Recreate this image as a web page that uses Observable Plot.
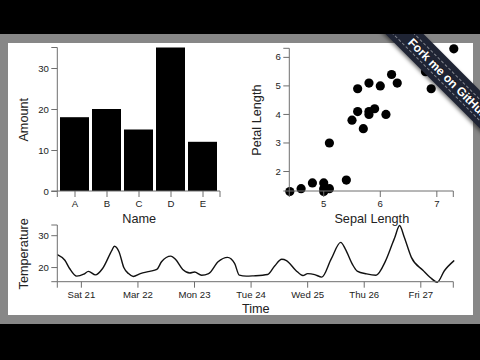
<!DOCTYPE html>
<html>
<head>
<meta charset="utf-8">
<script src="https://cdn.jsdelivr.net/npm/d3@7"></script>
<script src="https://cdn.jsdelivr.net/npm/@observablehq/plot@0.6"></script>
<style>
  html, body { margin: 0; padding: 0; background: #000; width: 480px; height: 360px; overflow: hidden; }
  #stage { position: absolute; left: 0; top: 34px; width: 480px; height: 290px; background: #878787; overflow: hidden; }
  #panel { position: absolute; left: 8px; top: 9px; width: 465px; height: 272px; background: #fff; }
  .chart { position: absolute; }
  #ribbon {
    position: absolute; left: 389.9px; top: -27.6px; width: 210px; height: 27px;
    transform-origin: 0 50%; transform: rotate(45deg);
    background: #1f2434; box-shadow: 0 2px 4px rgba(0,0,0,0.5);
    display: flex; align-items: center;
  }
  #ribbon span {
    display: block; width: 100%; box-sizing: border-box;
    border-top: 1px dashed rgba(255,255,255,0.45); border-bottom: 1px dashed rgba(255,255,255,0.45);
    line-height: 19px; padding-left: 29px;
    font: bold 12px "Liberation Sans", Arial, sans-serif; color: #fff; white-space: nowrap;
    text-shadow: 0 -1px 0 rgba(0,0,0,0.6);
  }
</style>
</head>
<body>
<div id="stage">
  <div id="panel"></div>
  <div id="bar" class="chart" style="left:0;top:0"></div>
  <div id="scatter" class="chart" style="left:240px;top:0"></div>
  <div id="temp" class="chart" style="left:0;top:176px"></div>
  <div id="ribbon"><span>Fork me on GitHub</span></div>
</div>
<script>
// ---- data ----
const names = ["A", "B", "C", "D", "E"];
const amounts = [18, 20, 15, 35, 12];
const amountTicks = [0, 10, 20, 30];

const sepalLength = [4.4, 4.6, 4.8, 5.0, 5.0, 5.0, 5.1, 5.4, 5.1, 5.7, 5.5, 5.6, 5.8, 5.8, 5.9, 6.1, 5.6, 5.8, 6.0, 6.2, 6.3, 6.8, 6.9, 7.3];
const petalLength = [1.3, 1.4, 1.6, 1.6, 1.4, 1.3, 1.4, 1.7, 3.0, 3.5, 3.8, 4.1, 4.0, 4.1, 4.2, 4.0, 4.9, 5.1, 5.0, 5.4, 5.1, 5.5, 4.9, 6.3];
const sepalTicks = [5, 6, 7];
const petalTicks = [2, 3, 4, 5, 6];

const times = [
  "2015-03-20T14:00Z", "2015-03-20T17:00Z", "2015-03-20T19:00Z", "2015-03-20T22:00Z",
  "2015-03-21T01:00Z", "2015-03-21T03:00Z", "2015-03-21T06:00Z", "2015-03-21T09:00Z",
  "2015-03-21T13:00Z", "2015-03-21T14:00Z", "2015-03-21T16:00Z", "2015-03-21T18:00Z",
  "2015-03-21T20:00Z", "2015-03-21T22:00Z",
  "2015-03-22T01:00Z", "2015-03-22T05:00Z", "2015-03-22T08:00Z", "2015-03-22T10:00Z",
  "2015-03-22T14:00Z", "2015-03-22T16:00Z", "2015-03-22T19:00Z", "2015-03-22T22:00Z",
  "2015-03-23T00:00Z", "2015-03-23T03:00Z", "2015-03-23T06:00Z", "2015-03-23T10:00Z",
  "2015-03-23T14:00Z", "2015-03-23T17:00Z", "2015-03-23T19:00Z", "2015-03-23T22:00Z",
  "2015-03-24T01:00Z", "2015-03-24T07:00Z", "2015-03-24T10:00Z", "2015-03-24T13:00Z",
  "2015-03-24T15:00Z", "2015-03-24T19:00Z", "2015-03-24T22:00Z",
  "2015-03-25T00:00Z", "2015-03-25T03:00Z", "2015-03-25T06:00Z", "2015-03-25T10:00Z",
  "2015-03-25T14:00Z", "2015-03-25T16:00Z", "2015-03-25T19:00Z", "2015-03-25T21:00Z",
  "2015-03-26T01:00Z", "2015-03-26T05:00Z", "2015-03-26T09:00Z", "2015-03-26T12:00Z",
  "2015-03-26T13:00Z", "2015-03-26T15:00Z", "2015-03-26T17:00Z", "2015-03-26T20:00Z",
  "2015-03-27T01:00Z", "2015-03-27T04:00Z", "2015-03-27T07:00Z", "2015-03-27T10:00Z",
  "2015-03-27T14:00Z"
];
const temps = [
  24.0, 22.3, 19.7, 17.3,
  17.9, 18.8, 17.7, 19.7,
  25.5, 26.7, 24.9, 20.0,
  18.1, 17.2,
  18.1, 18.8, 19.4, 21.8,
  23.6, 22.5, 19.4, 18.3,
  18.6, 17.6, 18.1, 21.8,
  23.2, 21.3, 17.6, 17.3,
  17.4, 17.8, 20.5, 22.6,
  22.2, 19.1, 17.5,
  18.1, 17.8, 17.0, 22.7,
  27.9, 25.8, 21.0, 18.9,
  18.0, 17.6, 22.0, 27.6,
  29.5, 33.2, 29.5, 23.2,
  19.1, 16.9, 15.4, 19.0,
  22.1
];
const dayTicks = ["2015-03-21", "2015-03-22", "2015-03-23", "2015-03-24", "2015-03-25", "2015-03-26", "2015-03-27"];
const dayLabels = ["Sat 21", "Mar 22", "Mon 23", "Tue 24", "Wed 25", "Thu 26", "Fri 27"];
const tempTicks = [20, 30];

// ---- styling ----
const FONT = '"Liberation Sans", Arial, Helvetica, sans-serif';
const AXIS = "#6e6e6e";
const TEXT = "#222";
const TICKFONT = 9.6;
const LABELFONT = 12.7;

// D3-style axis domain paths (with outer ticks), drawn from the plot's frame dimensions
function domainPaths() {
  return (index, scales, values, dim) => {
    const x0 = dim.marginLeft, x1 = dim.width - dim.marginRight;
    const y0 = dim.marginTop, y1 = dim.height - dim.marginBottom;
    const g = d3.create("svg:g").attr("fill", "none").attr("stroke", AXIS);
    g.append("path").attr("d", `M${x0 - 6},${y0}H${x0}V${y1}H${x0 - 6}`);
    g.append("path").attr("d", `M${x0},${y1 + 6}V${y1}H${x1}V${y1 + 6}`);
    return g.node();
  };
}
const axisOpts = {tickSize: 6, tickPadding: 3, stroke: AXIS, fill: TEXT, fontSize: TICKFONT, label: null};
const style = {fontFamily: FONT, fontSize: TICKFONT + "px", background: "transparent", color: TEXT, overflow: "visible"};
const xTitle = (t, dy) => Plot.text([t], {frameAnchor: "bottom", dy, lineAnchor: "middle", textAnchor: "middle", fontSize: LABELFONT, fill: TEXT});
const yTitle = (t, dx) => Plot.text([t], {frameAnchor: "left", dx, rotate: -90, lineAnchor: "middle", textAnchor: "middle", fontSize: LABELFONT, fill: TEXT});

// ---- bar chart ----
const barData = names.map((n, i) => ({name: n, amount: amounts[i]}));
document.getElementById("bar").append(Plot.plot({
  width: 240, height: 197,
  marginLeft: 57.3, marginRight: 20, marginTop: 13.5, marginBottom: 40,
  style,
  x: {domain: names, paddingInner: 0.1, paddingOuter: 0.08},
  y: {domain: [0, d3.max(amounts)]},
  marks: [
    Plot.barY(barData, {x: "name", y: "amount", fill: "#000"}),
    Plot.axisX({...axisOpts}),
    Plot.axisY(amountTicks, {...axisOpts}),
    domainPaths(),
    xTitle("Name", 27),
    yTitle("Amount", -34)
  ]
}));

// ---- scatter ----
const irisData = sepalLength.map((s, i) => ({sepal: s, petal: petalLength[i]}));
document.getElementById("scatter").append(Plot.plot({
  width: 240, height: 197,
  marginLeft: 49.3, marginRight: 26.7, marginTop: 14.3, marginBottom: 40,
  style,
  x: {domain: d3.extent(sepalLength)},
  y: {domain: d3.extent(petalLength)},
  marks: [
    Plot.dot(irisData, {x: "sepal", y: "petal", r: 4.6, fill: "#000", stroke: "none"}),
    Plot.axisX(sepalTicks, {...axisOpts}),
    Plot.axisY(petalTicks, {...axisOpts}),
    domainPaths(),
    xTitle("Sepal Length", 27),
    yTitle("Petal Length", -32.6)
  ]
}));

// ---- temperature ----
const tempData = times.map((t, i) => ({time: new Date(t), temp: temps[i]}));
const tickDates = dayTicks.map(d => new Date(d + "T00:00Z"));
document.getElementById("temp").append(Plot.plot({
  width: 480, height: 105,
  marginLeft: 57.3, marginRight: 26.7, marginTop: 15, marginBottom: 33.3,
  style,
  x: {type: "utc", domain: d3.extent(tempData, d => d.time)},
  y: {domain: d3.extent(temps)},
  marks: [
    Plot.line(tempData, {x: "time", y: "temp", curve: "monotone-x", stroke: "#111", strokeWidth: 1.4}),
    Plot.axisX(tickDates, {...axisOpts, tickFormat: d => dayLabels[dayTicks.indexOf(d.toISOString().slice(0, 10))]}),
    Plot.axisY(tempTicks, {...axisOpts}),
    domainPaths(),
    xTitle("Time", 26.6),
    yTitle("Temperature", -34)
  ]
}));
</script>
</body>
</html>
